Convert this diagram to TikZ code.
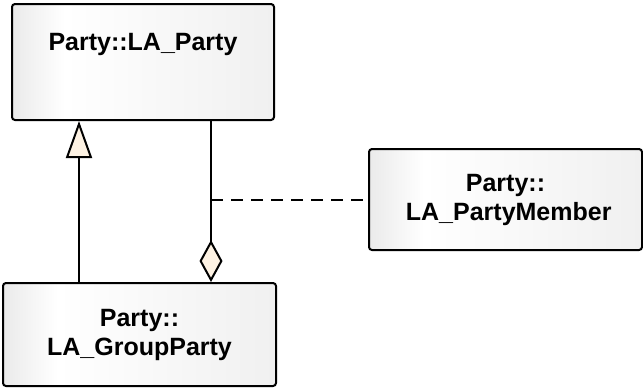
\documentclass[tikz,border=0pt]{standalone}
\usepackage{fontspec}
\setsansfont{Liberation Sans}
\usetikzlibrary{
  positioning,
  calc,
  arrows.meta}
\definecolor{headcolor}{RGB}{253,242,227}
\definecolor{shadeleft}{RGB}{234,234,234}
\definecolor{shaderight}{RGB}{240,240,240}
\pgfdeclarehorizontalshading{classshade}{100bp}{%
  color(0bp)=(shadeleft); color(25bp)=(shadeleft);
  color(35bp)=(white); color(75bp)=(shaderight);
  color(100bp)=(shaderight)}
\tikzset{
  %% umlclass : a class box
  umlclass/.style={
    rectangle,
    rounded corners=1.5pt,
    draw=black,
    line width=1pt,
    shading=classshade,
    align=center
  },
  %% classname : the text of a class
  classname/.style={
    font=\sffamily\bfseries\fontsize{12.5}{14.5}\selectfont,
    align=center
  },
  %% generalization : hollow triangle at the parent
  generalization/.style={
    line width=1pt,
    -{Triangle[width=13pt, length=18.5pt, fill=headcolor]}
  },
  %% aggregation : diamond at the whole
  aggregation/.style={
    line width=1pt,
    {Diamond[width=11.5pt, length=21pt, fill=headcolor]}-
  },
  %% assoclink : dashed line to the association class
  assoclink/.style={line width=1pt, dash pattern=on 6pt off 4pt}
}

\begin{document}
\begin{tikzpicture}
  [x=0.5pt,
  y=-0.5pt]
  \useasboundingbox (0,0) rectangle (643,387);

  %% classes
  \node (party) [umlclass, minimum width=131pt, minimum height=58pt]
    at (143,62) {};
  \node (party-name) [classname, anchor=base] at (143,50) {%
    Party::LA\_Party};

  \node (group) [umlclass, classname, minimum width=136.5pt,
    minimum height=51.5pt] at (139.5,334.5) {%
    \raisebox{-2.5pt}{\parbox{3.5cm}{\centering Party::\\LA\_GroupParty}}};

  \node (member) [umlclass, classname, minimum width=136.5pt,
    minimum height=50.5pt] at (505.5,199.5) {%
    \raisebox{-3pt}{\parbox{3.5cm}{\centering Party::\\LA\_PartyMember}}};

  %% connections
  \coordinate (gen) at (79,0);
  \coordinate (agg) at (211,0);

  \draw [generalization] (group.north -| gen) -- (party.south -| gen);
  \draw [aggregation] (group.north -| agg) -- (party.south -| agg);
  \draw [assoclink] (member.west -| agg) -- (member.west);

\end{tikzpicture}
\end{document}
